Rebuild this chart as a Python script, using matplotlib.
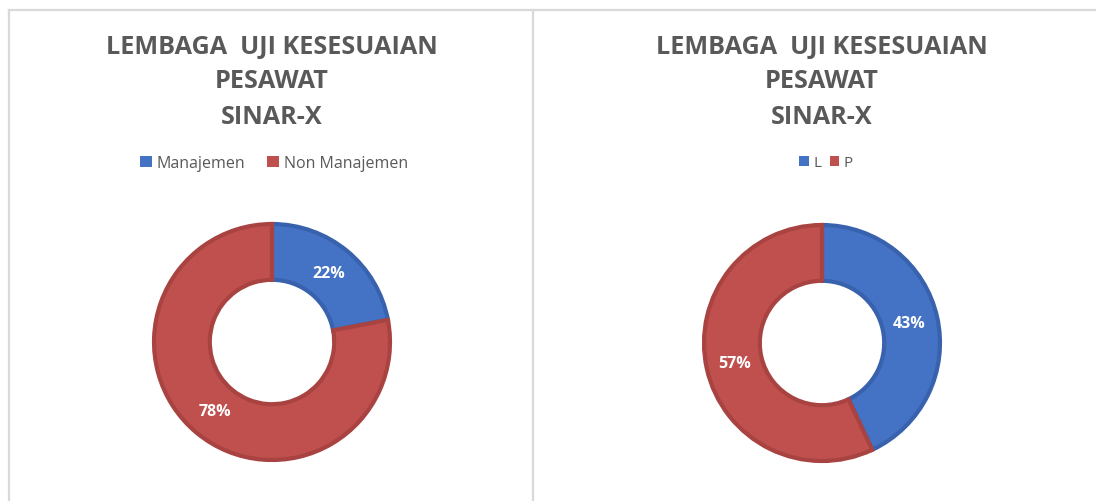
import matplotlib
matplotlib.use("Agg")
import matplotlib.pyplot as plt
from matplotlib.lines import Line2D
from matplotlib.patches import Patch

# ---- data ----
title_lines = ["LEMBAGA  UJI KESESUAIAN", "PESAWAT", "SINAR-X"]
left_labels = ["Manajemen", "Non Manajemen"]
left_values = [22, 78]
right_labels = ["L", "P"]
right_values = [43, 57]

colors = ["#4472C4", "#C0504D"]
edge_colors = ["#3862AD", "#A84341"]

W, H = 1096, 502
fig = plt.figure(figsize=(W / 100, H / 100), dpi=100)
fig.patch.set_facecolor("white")

FONT = "Open Sans"
GRAY = "#595959"
BORDER = "#D9D9D9"


def px(x, y):
    """pixel coords (from top-left) to figure fraction"""
    return x / W, 1 - y / H


# panel borders
for (x0, y0, x1, y1) in [(9, 11, W, 11), (9, 11, 9, H), (533, 11, 533, H)]:
    a, b = px(x0, y0)
    c, d = px(x1, y1)
    fig.add_artist(Line2D([a, c], [b, d], color=BORDER, lw=1.6,
                          transform=fig.transFigure))


def donut(cx, cy, labels, values, leg_size, leg_handle, leg_colsp, leg_dx):
    R = 120.0
    half = 126.0
    ax = fig.add_axes([(cx - half) / W, (H - cy - half) / H, 2 * half / W, 2 * half / H])
    wedges, texts, autotexts = ax.pie(
        values, startangle=90, counterclock=False, colors=colors,
        radius=118.0 / R, autopct="%1.0f%%", pctdistance=0.76,
        wedgeprops=dict(width=0.465, linewidth=3.0),
        textprops=dict(color="white", fontsize=11.5, fontweight="bold", family=FONT))
    for w, ec in zip(wedges, edge_colors):
        w.set_edgecolor(ec)
    lim = half / R
    ax.set_xlim(-lim, lim)
    ax.set_ylim(-lim, lim)
    ax.set_aspect("equal")
    ax.axis("off")

    # titles
    for i, line in enumerate(title_lines):
        x, y = px(cx, 47 + 35 * i)
        fig.text(x, y, line, ha="center", va="center", fontsize=18.2,
                 fontweight="bold", color=GRAY, family=FONT)

    # legend
    handles = [Patch(facecolor=c, edgecolor="none") for c in colors]
    lx, ly = px(cx + leg_dx, 164)
    fig.legend(handles, labels, loc="center", bbox_to_anchor=(lx, ly), ncol=len(labels),
               frameon=False, handlelength=leg_handle, handleheight=leg_handle,
               handletextpad=0.3, columnspacing=leg_colsp,
               prop=dict(family=FONT, size=leg_size), labelcolor=GRAY, borderpad=0)


donut(272, 343, left_labels, left_values, 11.5, 0.75, 1.35, 2)
donut(822, 344, right_labels, right_values, 11.0, 0.62, 0.55, 4)

fig.savefig("out.png", dpi=100, facecolor="white")
